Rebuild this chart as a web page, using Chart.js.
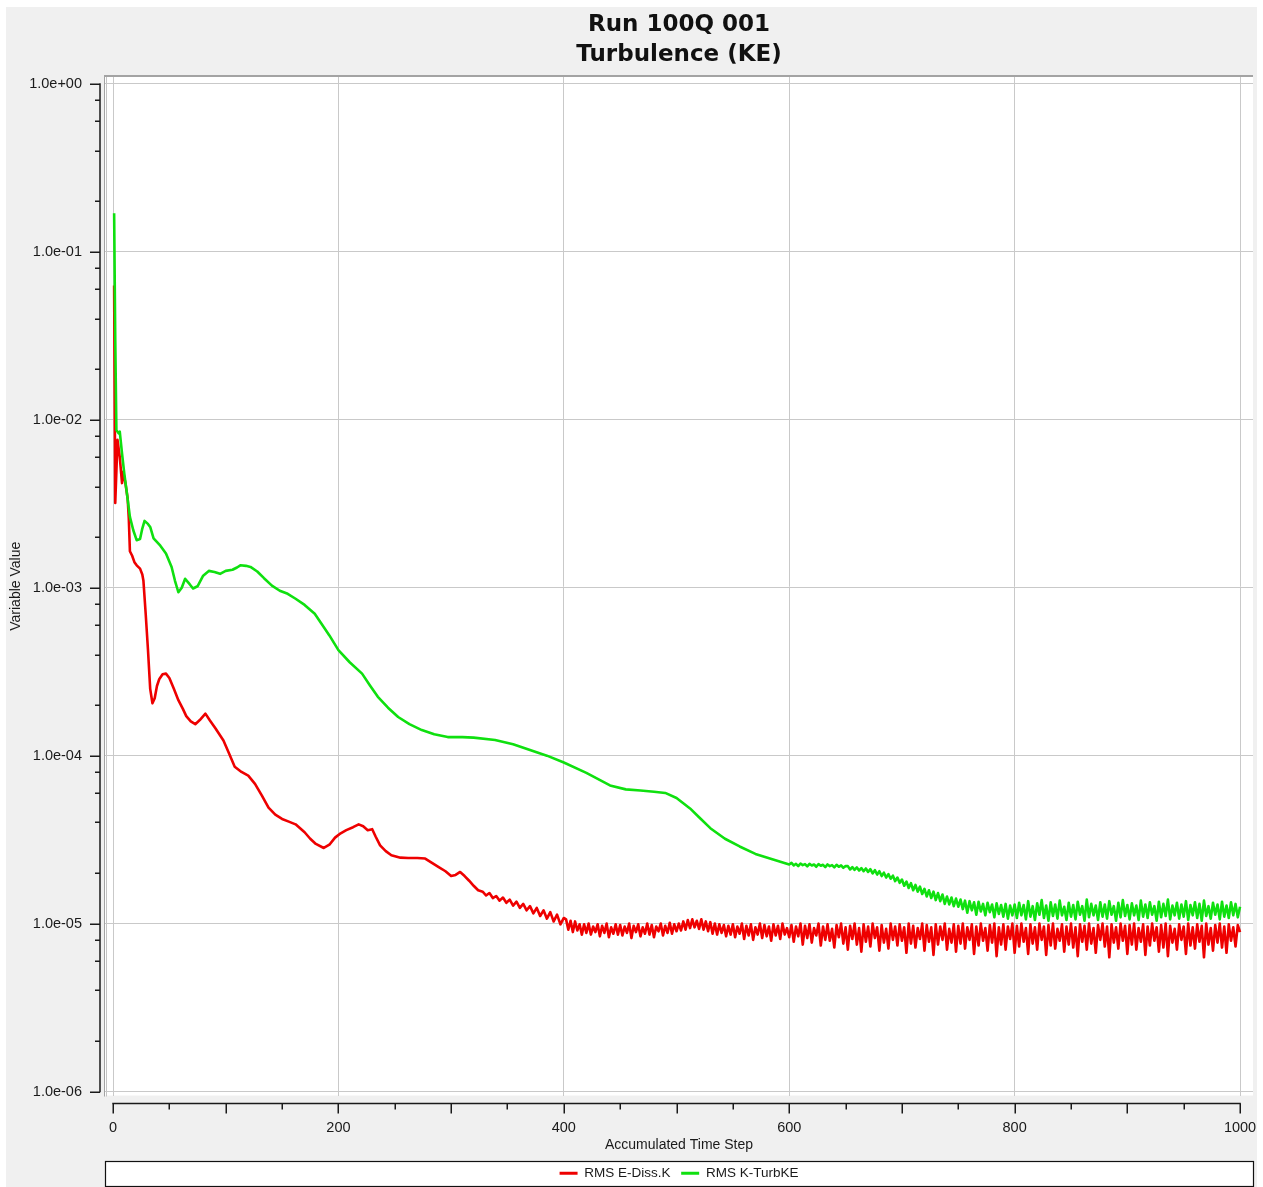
<!DOCTYPE html>
<html>
<head>
<meta charset="utf-8">
<script src="https://cdn.jsdelivr.net/npm/chart.js@4.4.1/dist/chart.umd.min.js"></script>
<style>
html,body{margin:0;padding:0;background:#fff;}
canvas{display:block;}
</style>
</head>
<body>
<canvas id="c" width="1263" height="1187"></canvas>
<script>
// ---------------- data ----------------
const titleLines = ['Run 100Q 001', 'Turbulence (KE)'];
const seriesNames = ['RMS E-Diss.K', 'RMS K-TurbKE'];
const xAxisTitle = 'Accumulated Time Step';
const yAxisTitle = 'Variable Value';
const xTickValues = [0, 200, 400, 600, 800, 1000];
const yTickValues = [1e-6, 1e-5, 1e-4, 1e-3, 1e-2, 1e-1, 1e0];
const yTickLabels = ['1.0e-06', '1.0e-05', '1.0e-04', '1.0e-03', '1.0e-02', '1.0e-01', '1.0e+00'];
const xMinorStep = 50;
const yMinorMantissas = [2, 4, 6, 8];

// RMS E-Diss.K : smooth early part (step, value)
const eDissHeadSteps = [1, 2, 4, 6, 8, 9, 11, 13, 14, 15, 17, 19, 21, 24, 26, 27, 29, 31, 33, 35, 37, 39, 41, 44, 47, 50, 54, 58, 62, 65, 69, 73, 77, 82, 86, 91, 98, 103, 108, 114, 120, 126, 132, 138, 144, 150, 156, 162, 170, 175, 180, 187, 192, 197, 202, 207, 213, 218, 222, 226, 230, 233, 237, 242, 247, 255, 262, 270, 277, 283, 289, 295, 300, 304, 308, 312, 316, 320, 324, 328, 331, 334, 337, 340, 343, 346, 349, 352, 355, 358, 361, 364, 367, 370, 373, 376, 379, 382, 385, 388, 391, 394, 397, 400];
const eDissHeadValues = [6.3e-2, 3.2e-3, 7.6e-3, 6.0e-3, 4.2e-3, 4.9e-3, 4.2e-3, 3.4e-3, 2.6e-3, 1.65e-3, 1.55e-3, 1.42e-3, 1.36e-3, 1.3e-3, 1.2e-3, 1.1e-3, 7.0e-4, 4.3e-4, 2.5e-4, 2.05e-4, 2.2e-4, 2.6e-4, 2.85e-4, 3.05e-4, 3.08e-4, 2.9e-4, 2.5e-4, 2.14e-4, 1.9e-4, 1.72e-4, 1.6e-4, 1.54e-4, 1.63e-4, 1.78e-4, 1.62e-4, 1.45e-4, 1.23e-4, 1.03e-4, 8.6e-5, 8.0e-5, 7.6e-5, 6.8e-5, 5.8e-5, 4.9e-5, 4.45e-5, 4.2e-5, 4.05e-5, 3.9e-5, 3.5e-5, 3.2e-5, 2.98e-5, 2.82e-5, 2.95e-5, 3.25e-5, 3.45e-5, 3.6e-5, 3.75e-5, 3.9e-5, 3.8e-5, 3.6e-5, 3.65e-5, 3.3e-5, 2.92e-5, 2.7e-5, 2.55e-5, 2.47e-5, 2.46e-5, 2.46e-5, 2.44e-5, 2.3e-5, 2.17e-5, 2.05e-5, 1.92e-5, 1.95e-5, 2.03e-5, 1.92e-5, 1.8e-5, 1.68e-5, 1.58e-5, 1.55e-5, 1.47e-5, 1.52e-5, 1.42e-5, 1.46e-5, 1.37e-5, 1.43e-5, 1.33e-5, 1.39e-5, 1.28e-5, 1.35e-5, 1.24e-5, 1.31e-5, 1.2e-5, 1.27e-5, 1.15e-5, 1.24e-5, 1.11e-5, 1.2e-5, 1.07e-5, 1.17e-5, 1.03e-5, 1.13e-5, 9.9e-6, 1.08e-5, 1.0e-5];
// RMS E-Diss.K : noisy tail, one value every 2 steps from step 402
const eDissTailStart = 402;
const eDissTailEvery = 2;
const eDissTailValues = [
  1.06e-5, 9.2e-6, 1.04e-5, 8.9e-6, 1.03e-5, 9.1e-6, 9.9e-6, 8.6e-6, 9.9e-6, 8.8e-6, 1.0e-5, 8.6e-6, 9.6e-6, 8.9e-6, 9.9e-6, 8.4e-6, 9.7e-6, 8.8e-6, 1.0e-5, 8.3e-6, 9.5e-6, 8.7e-6, 9.9e-6, 8.6e-6, 9.8e-6,
  8.5e-6, 9.6e-6, 8.8e-6, 1.0e-5, 8.2e-6, 9.7e-6, 8.9e-6, 9.9e-6, 8.4e-6, 9.5e-6, 8.7e-6, 1.0e-5, 8.6e-6, 9.8e-6, 8.3e-6, 9.6e-6, 9.0e-6, 1.0e-5, 8.5e-6, 9.7e-6, 8.8e-6, 1.01e-5, 8.7e-6, 9.9e-6, 9.0e-6,
  1.0e-5, 9.1e-6, 1.03e-5, 9.2e-6, 1.05e-5, 9.4e-6, 1.06e-5, 9.5e-6, 1.04e-5, 9.3e-6, 1.06e-5, 9.2e-6, 1.03e-5, 9.0e-6, 1.02e-5, 8.7e-6, 1.0e-5, 8.6e-6, 9.9e-6, 8.8e-6, 9.8e-6, 8.4e-6, 9.7e-6, 8.6e-6, 9.9e-6,
  8.3e-6, 9.6e-6, 8.7e-6, 1.0e-5, 8.1e-6, 9.7e-6, 8.5e-6, 9.9e-6, 8.0e-6, 9.5e-6, 8.6e-6, 1.0e-5, 8.2e-6, 9.8e-6, 8.4e-6, 9.6e-6, 7.9e-6, 9.9e-6, 8.5e-6, 9.7e-6, 8.1e-6, 1.0e-5, 8.6e-6, 9.4e-6, 8.3e-6,
  9.8e-6, 7.8e-6, 9.6e-6, 8.4e-6, 1.0e-5, 7.5e-6, 9.7e-6, 8.2e-6, 9.9e-6, 7.7e-6, 9.4e-6, 8.5e-6, 1.0e-5, 7.4e-6, 9.6e-6, 8.0e-6, 9.9e-6, 7.9e-6, 9.3e-6, 7.2e-6, 9.8e-6, 8.3e-6, 1.0e-5, 7.6e-6, 9.5e-6,
  7.0e-6, 9.7e-6, 8.1e-6, 1.0e-5, 7.5e-6, 9.4e-6, 6.8e-6, 9.9e-6, 7.8e-6, 9.6e-6, 7.3e-6, 1.0e-5, 8.2e-6, 9.5e-6, 6.9e-6, 9.8e-6, 7.7e-6, 9.3e-6, 7.1e-6, 1.0e-5, 8.0e-6, 9.6e-6, 7.4e-6, 9.9e-6, 7.9e-6,
  9.5e-6, 6.7e-6, 1.0e-5, 7.6e-6, 9.7e-6, 7.2e-6, 9.4e-6, 8.1e-6, 1.0e-5, 6.9e-6, 9.8e-6, 7.8e-6, 9.5e-6, 6.5e-6, 9.9e-6, 7.5e-6, 9.6e-6, 8.0e-6, 1.0e-5, 7.0e-6, 9.3e-6, 7.7e-6, 9.9e-6, 6.8e-6, 9.7e-6,
  7.6e-6, 1.0e-5, 7.1e-6, 9.5e-6, 8.0e-6, 9.9e-6, 6.6e-6, 9.6e-6, 7.4e-6, 1.0e-5, 7.9e-6, 9.4e-6, 6.9e-6, 9.8e-6, 7.7e-6, 1.0e-5, 6.4e-6, 9.5e-6, 7.5e-6, 9.9e-6, 7.0e-6, 9.6e-6, 8.1e-6, 1.0e-5, 6.7e-6,
  9.7e-6, 7.3e-6, 1.0e-5, 7.8e-6, 9.4e-6, 6.6e-6, 9.9e-6, 7.6e-6, 9.5e-6, 7.0e-6, 1.0e-5, 8.0e-6, 9.6e-6, 6.5e-6, 9.8e-6, 7.4e-6, 1.0e-5, 7.1e-6, 9.3e-6, 7.9e-6, 9.9e-6, 6.8e-6, 9.6e-6, 7.5e-6, 1.0e-5,
  7.2e-6, 9.5e-6, 6.4e-6, 9.9e-6, 7.8e-6, 9.7e-6, 7.0e-6, 1.0e-5, 7.6e-6, 9.4e-6, 6.7e-6, 9.8e-6, 8.0e-6, 1.0e-5, 7.3e-6, 9.6e-6, 6.3e-6, 9.9e-6, 7.7e-6, 9.5e-6, 7.1e-6, 1.0e-5, 7.9e-6, 9.7e-6, 6.6e-6,
  9.8e-6, 7.5e-6, 1.0e-5, 7.0e-6, 9.4e-6, 7.8e-6, 9.9e-6, 6.5e-6, 9.6e-6, 7.4e-6, 1.0e-5, 7.9e-6, 9.5e-6, 6.8e-6, 9.8e-6, 7.2e-6, 1.0e-5, 6.4e-6, 9.7e-6, 7.7e-6, 9.3e-6, 7.0e-6, 9.9e-6, 8.0e-6, 9.6e-6,
  6.6e-6, 1.0e-5, 7.4e-6, 9.5e-6, 7.1e-6, 9.9e-6, 7.8e-6, 9.7e-6, 6.3e-6, 1.0e-5, 7.5e-6, 9.4e-6, 6.9e-6, 9.8e-6, 7.7e-6, 1.0e-5, 7.2e-6, 9.6e-6, 6.7e-6, 9.9e-6, 7.9e-6, 9.5e-6, 7.3e-6, 9.8e-6, 8.9e-6
];

// RMS K-TurbKE : smooth early part (step, value)
const turbKEHeadSteps = [1, 2, 3, 5, 6, 8, 10, 12, 15, 18, 21, 24, 26, 28, 31, 33, 36, 42, 47, 52, 55, 58, 61, 64, 68, 71, 75, 80, 85, 90, 95, 100, 106, 110, 113, 118, 122, 128, 134, 141, 148, 155, 162, 170, 179, 185, 192, 200, 210, 221, 228, 235, 244, 253, 263, 274, 285, 297, 310, 320, 339, 355, 370, 385, 400, 420, 441, 455, 468, 480, 490, 500, 512, 520, 530, 543, 556, 570, 585, 600];
const turbKEHeadValues = [1.7e-1, 3.0e-2, 8.7e-3, 8.3e-3, 8.5e-3, 6.3e-3, 4.8e-3, 3.8e-3, 2.64e-3, 2.2e-3, 1.92e-3, 1.95e-3, 2.25e-3, 2.5e-3, 2.4e-3, 2.3e-3, 1.97e-3, 1.78e-3, 1.6e-3, 1.33e-3, 1.1e-3, 9.4e-4, 1.0e-3, 1.13e-3, 1.05e-3, 9.9e-4, 1.02e-3, 1.18e-3, 1.26e-3, 1.24e-3, 1.21e-3, 1.26e-3, 1.28e-3, 1.32e-3, 1.36e-3, 1.35e-3, 1.33e-3, 1.25e-3, 1.14e-3, 1.03e-3, 9.6e-4, 9.2e-4, 8.6e-4, 7.9e-4, 7.0e-4, 6.1e-4, 5.2e-4, 4.25e-4, 3.6e-4, 3.08e-4, 2.62e-4, 2.24e-4, 1.93e-4, 1.7e-4, 1.54e-4, 1.42e-4, 1.34e-4, 1.29e-4, 1.29e-4, 1.28e-4, 1.24e-4, 1.17e-4, 1.08e-4, 1.0e-4, 9.1e-5, 7.9e-5, 6.65e-5, 6.3e-5, 6.2e-5, 6.1e-5, 6.0e-5, 5.6e-5, 4.85e-5, 4.3e-5, 3.7e-5, 3.2e-5, 2.88e-5, 2.6e-5, 2.42e-5, 2.25e-5];
// RMS K-TurbKE : noisy tail, one value every 2 steps from step 602
const turbKETailStart = 602;
const turbKETailEvery = 2;
const turbKETailValues = [
  2.3e-5, 2.22e-5, 2.27e-5, 2.2e-5, 2.28e-5, 2.23e-5, 2.26e-5, 2.19e-5, 2.27e-5, 2.22e-5, 2.25e-5, 2.18e-5, 2.26e-5, 2.21e-5, 2.24e-5, 2.17e-5, 2.25e-5, 2.2e-5, 2.23e-5, 2.16e-5, 2.24e-5, 2.18e-5, 2.22e-5, 2.15e-5, 2.2e-5,
  2.2e-5, 2.1e-5, 2.17e-5, 2.09e-5, 2.16e-5, 2.07e-5, 2.14e-5, 2.05e-5, 2.13e-5, 2.03e-5, 2.11e-5, 1.99e-5, 2.08e-5, 1.96e-5, 2.05e-5, 1.92e-5, 2.01e-5, 1.88e-5, 1.97e-5, 1.85e-5, 1.93e-5, 1.79e-5, 1.88e-5, 1.75e-5, 1.83e-5,
  1.68e-5, 1.78e-5, 1.63e-5, 1.74e-5, 1.58e-5, 1.7e-5, 1.55e-5, 1.66e-5, 1.5e-5, 1.61e-5, 1.45e-5, 1.58e-5, 1.42e-5, 1.55e-5, 1.38e-5, 1.52e-5, 1.36e-5, 1.49e-5, 1.31e-5, 1.45e-5, 1.3e-5, 1.43e-5, 1.27e-5, 1.41e-5, 1.26e-5,
  1.39e-5, 1.22e-5, 1.37e-5, 1.16e-5, 1.36e-5, 1.2e-5, 1.34e-5, 1.13e-5, 1.35e-5, 1.18e-5, 1.31e-5, 1.12e-5, 1.33e-5, 1.17e-5, 1.3e-5, 1.09e-5, 1.32e-5, 1.14e-5, 1.29e-5, 1.1e-5, 1.31e-5, 1.07e-5, 1.28e-5, 1.12e-5, 1.3e-5,
  1.08e-5, 1.33e-5, 1.12e-5, 1.29e-5, 1.06e-5, 1.36e-5, 1.1e-5, 1.27e-5, 1.05e-5, 1.32e-5, 1.13e-5, 1.38e-5, 1.08e-5, 1.28e-5, 1.04e-5, 1.34e-5, 1.11e-5, 1.3e-5, 1.07e-5, 1.37e-5, 1.12e-5, 1.26e-5, 1.05e-5, 1.33e-5, 1.1e-5,
  1.29e-5, 1.06e-5, 1.35e-5, 1.13e-5, 1.27e-5, 1.04e-5, 1.39e-5, 1.09e-5, 1.31e-5, 1.12e-5, 1.28e-5, 1.05e-5, 1.34e-5, 1.1e-5, 1.3e-5, 1.07e-5, 1.36e-5, 1.13e-5, 1.27e-5, 1.04e-5, 1.33e-5, 1.09e-5, 1.38e-5, 1.11e-5, 1.29e-5,
  1.06e-5, 1.32e-5, 1.12e-5, 1.28e-5, 1.05e-5, 1.37e-5, 1.1e-5, 1.3e-5, 1.08e-5, 1.34e-5, 1.13e-5, 1.27e-5, 1.04e-5, 1.35e-5, 1.09e-5, 1.31e-5, 1.11e-5, 1.39e-5, 1.06e-5, 1.28e-5, 1.12e-5, 1.33e-5, 1.07e-5, 1.3e-5, 1.1e-5,
  1.36e-5, 1.05e-5, 1.29e-5, 1.12e-5, 1.34e-5, 1.08e-5, 1.31e-5, 1.04e-5, 1.37e-5, 1.11e-5, 1.27e-5, 1.07e-5, 1.33e-5, 1.13e-5, 1.3e-5, 1.06e-5, 1.35e-5, 1.1e-5, 1.28e-5, 1.08e-5, 1.34e-5, 1.12e-5, 1.31e-5, 1.09e-5, 1.26e-5
];

// ---------------- build points ----------------
function buildPoints(headSteps, headValues, tailStart, tailEvery, tailValues) {
  const pts = headSteps.map((s, i) => ({x: s, y: headValues[i]}));
  tailValues.forEach((v, i) => pts.push({x: tailStart + i * tailEvery, y: v}));
  return pts;
}
const eDissPoints = buildPoints(eDissHeadSteps, eDissHeadValues, eDissTailStart, eDissTailEvery, eDissTailValues);
const turbKEPoints = buildPoints(turbKEHeadSteps, turbKEHeadValues, turbKETailStart, turbKETailEvery, turbKETailValues);

// ---------------- styling ----------------
const SMALL_FONT = {family: "'Liberation Sans', Arial, sans-serif", size: 14.5};
const LEGEND_FONT = {family: "'Liberation Sans', Arial, sans-serif", size: 13.5};
const AXIS_TITLE_FONT = {family: "'Liberation Sans', Arial, sans-serif", size: 14};
const TEXT_COLOR = '#1a1a1a';
const RED = '#ee0000';
const GREEN = '#0fe00f';

const framePlugin = {
  id: 'frame',
  beforeDraw(chart) {
    const {ctx, chartArea: a} = chart;
    ctx.save();
    ctx.fillStyle = '#ffffff';
    ctx.fillRect(0, 0, chart.width, chart.height);
    ctx.fillStyle = '#f0f0f0';
    ctx.fillRect(6, 7, chart.width - 12, chart.height - 7);
    // plot area
    ctx.fillStyle = '#ffffff';
    ctx.fillRect(a.left, a.top, a.right - a.left, a.bottom - a.top);
    ctx.fillStyle = '#a3a3a3';
    ctx.fillRect(a.left - 1, a.top - 2, a.right - a.left + 1, 2);
    ctx.fillRect(a.left - 1, a.top - 2, 1, a.bottom - a.top + 3);
    ctx.fillStyle = '#c4c4c4';
    ctx.fillRect(a.left + 1, a.top, 1, a.bottom - a.top + 1);
    // legend frame
    const lg = chart.legend;
    const cy = lg.top + lg.options.labels.padding + 7;
    ctx.fillStyle = '#ffffff';
    ctx.fillRect(a.left, cy - 12.5, a.right - a.left + 1, 25);
    ctx.strokeStyle = '#111';
    ctx.lineWidth = 1.2;
    ctx.strokeRect(a.left + 0.5, Math.round(cy - 12.5) + 0.5, a.right - a.left, 25);
    ctx.restore();
  },
  afterDraw(chart) {
    const {ctx, chartArea: a} = chart;
    const xs = chart.scales.x, ys = chart.scales.y;
    ctx.save();
    ctx.strokeStyle = '#1a1a1a';
    ctx.lineWidth = 1.5;
    ctx.lineCap = 'butt';
    // x axis (offset below plot)
    const axY = a.bottom + 8;
    const xFirst = xTickValues[0], xLast = xTickValues[xTickValues.length - 1];
    ctx.beginPath();
    ctx.moveTo(xs.getPixelForValue(xFirst) - 0.75, axY);
    ctx.lineTo(xs.getPixelForValue(xLast) + 0.75, axY);
    for (let v = xFirst; v <= xLast; v += xMinorStep) {
      const px = Math.round(xs.getPixelForValue(v)) + 0.25;
      const len = (v % 100 === 0) ? 10 : 6;
      ctx.moveTo(px, axY);
      ctx.lineTo(px, axY + len);
    }
    ctx.stroke();
    // y axis (offset left of plot)
    const axX = a.left - 5;
    const yTop = ys.getPixelForValue(yTickValues[yTickValues.length - 1]);
    const yBot = ys.getPixelForValue(yTickValues[0]);
    ctx.beginPath();
    ctx.moveTo(axX, yTop - 0.75);
    ctx.lineTo(axX, yBot + 0.75);
    yTickValues.forEach((d, i) => {
      const py = Math.round(ys.getPixelForValue(d)) + 0.25;
      ctx.moveTo(axX, py);
      ctx.lineTo(axX - 10, py);
      if (i < yTickValues.length - 1) {
        yMinorMantissas.forEach(m => {
          const q = Math.round(ys.getPixelForValue(m * d)) + 0.25;
          ctx.moveTo(axX, q);
          ctx.lineTo(axX - 5, q);
        });
      }
    });
    ctx.stroke();
    ctx.restore();
  }
};

const defaultLabels = Chart.defaults.plugins.legend.labels.generateLabels;

new Chart(document.getElementById('c'), {
  type: 'line',
  data: {
    datasets: [
      {label: seriesNames[0], data: eDissPoints, borderColor: RED, backgroundColor: RED, borderWidth: 2.6, pointRadius: 0, tension: 0, borderJoinStyle: 'round', order: 1},
      {label: seriesNames[1], data: turbKEPoints, borderColor: GREEN, backgroundColor: GREEN, borderWidth: 2.6, pointRadius: 0, tension: 0, borderJoinStyle: 'round', order: 0}
    ]
  },
  options: {
    responsive: false,
    devicePixelRatio: 1,
    animation: false,
    layout: {padding: {left: 6, right: 10, top: 7, bottom: -3}},
    plugins: {
      title: {
        display: true,
        text: titleLines,
        fullSize: false,
        color: '#111',
        font: {family: "'DejaVu Sans', Verdana, sans-serif", weight: 'bold', size: 23, lineHeight: '30px'},
        padding: {top: 3.5, bottom: 6.5}
      },
      legend: {
        display: true,
        position: 'bottom',
        fullSize: false,
        labels: {
          font: LEGEND_FONT,
          color: TEXT_COLOR,
          boxWidth: 18,
          boxHeight: 3,
          padding: 10.6,
          sort: (a, b) => a.datasetIndex - b.datasetIndex,
          generateLabels(chart) {
            return defaultLabels(chart).map(l => Object.assign(l, {lineWidth: 0, fillStyle: l.strokeStyle}));
          }
        }
      },
      tooltip: {enabled: false}
    },
    scales: {
      x: {
        type: 'linear',
        min: -7.1,
        max: 1011.5,
        afterBuildTicks(scale) { scale.ticks = xTickValues.map(v => ({value: v})); },
        afterFit(scale) { scale.height = 60.4; scale.paddingLeft = 0; scale.paddingRight = 0; },
        ticks: {font: SMALL_FONT, color: TEXT_COLOR, padding: 23.5, maxRotation: 0, autoSkip: false, callback: v => String(v)},
        grid: {color: '#c9c9c9', lineWidth: 1, drawTicks: false},
        border: {display: false},
        title: {display: true, text: xAxisTitle, font: AXIS_TITLE_FONT, color: TEXT_COLOR, padding: {top: 0, bottom: 2}}
      },
      y: {
        type: 'logarithmic',
        min: 9.47e-7,
        max: 1.10,
        afterBuildTicks(scale) { scale.ticks = yTickValues.map(v => ({value: v})); },
        afterFit(scale) { scale.width = 99; scale.paddingTop = 0; scale.paddingBottom = 0; },
        ticks: {font: SMALL_FONT, color: TEXT_COLOR, padding: 23, autoSkip: false, callback: (v, i) => yTickLabels[i]},
        grid: {color: '#c9c9c9', lineWidth: 1, drawTicks: false},
        border: {display: false},
        title: {display: true, text: yAxisTitle, font: AXIS_TITLE_FONT, color: TEXT_COLOR, padding: {top: 2, bottom: 0}}
      }
    }
  },
  plugins: [framePlugin]
});
</script>
</body>
</html>
